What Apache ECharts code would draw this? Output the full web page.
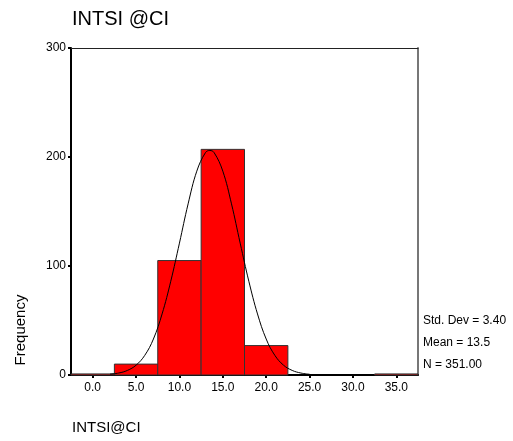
<!DOCTYPE html>
<html>
<head>
<meta charset="utf-8">
<script src="https://cdn.jsdelivr.net/npm/echarts@6/dist/echarts.min.js"></script>
<style>html,body{margin:0;padding:0;background:#fff;}#c{width:513px;height:441px;}</style>
</head>
<body>
<div id="c"></div>
<script>
// Histogram bins (midpoints) and frequencies
var binMids = [0, 5, 10, 15, 20, 25, 30, 35];
var binCounts = [1, 10, 105, 207, 27, 0, 0, 1];
var binWidth = 5;
// Fitted normal curve
var curveX = [2, 3, 4, 5, 6, 7, 8, 9, 10, 11, 12, 13, 13.5, 14, 15, 16, 17, 18, 19, 20, 21, 22, 23, 24, 25];
var curveY = [0.8, 1.8, 4.2, 9, 18, 33, 56, 86, 121, 157, 187, 204, 206, 204, 187, 157, 121, 86, 56, 33, 18, 9, 4.2, 1.8, 0.7];
// Tick labels
var xTickValues = [0, 5, 10, 15, 20, 25, 30, 35];
var yTicks = [0, 100, 200, 300];
var statsLines = ['Std. Dev = 3.40', 'Mean = 13.5', 'N = 351.00'];

var chart = echarts.init(document.getElementById('c'), null, {renderer: 'canvas'});
var FONT = 'Liberation Sans, Arial, sans-serif';

var barData = binMids.map(function (m, i) { return [m, binCounts[i]]; });
var curveData = curveX.map(function (x, i) { return [x, curveY[i]]; });

var graphics = [
  {type: 'text', left: 72, top: 9, style: {text: 'INTSI @CI', fontSize: 20, fontFamily: FONT, fill: '#000'}},
  {type: 'text', left: 72, top: 420, style: {text: 'INTSI@CI', fontSize: 15, fontFamily: FONT, fill: '#000'}},
  {type: 'text', x: 21, y: 330, rotation: Math.PI / 2, style: {text: 'Frequency', fontSize: 15, fontFamily: FONT, fill: '#000', align: 'center', verticalAlign: 'middle'}}
];
statsLines.forEach(function (t, i) {
  graphics.push({type: 'text', left: 423, top: 315 + i * 22, style: {text: t, fontSize: 12, fontFamily: FONT, fill: '#000'}});
});

chart.setOption({
  animation: false,
  backgroundColor: '#fff',
  grid: {left: 71, top: 48, right: 95, bottom: 66, containLabel: false},
  graphic: graphics,
  xAxis: [{
    type: 'value', min: -2.5, max: 37.5,
    axisLine: {show: true, onZero: false, lineStyle: {color: '#000', width: 2}},
    axisTick: {show: true, length: 3, customValues: xTickValues, lineStyle: {color: '#000', width: 2}},
    axisLabel: {show: true, customValues: xTickValues, fontSize: 12, fontFamily: FONT, color: '#000', margin: 7,
      formatter: function (v) { return v.toFixed(1); }},
    splitLine: {show: false}
  }, {
    type: 'value', min: -2.5, max: 37.5, position: 'top',
    axisLine: {show: true, onZero: false, lineStyle: {color: '#222', width: 1}},
    axisTick: {show: false}, axisLabel: {show: false}, splitLine: {show: false}
  }],
  yAxis: [{
    type: 'value', min: 0, max: 300, interval: 100,
    axisLine: {show: true, onZero: false, lineStyle: {color: '#000', width: 2}},
    axisTick: {show: true, length: 3, lineStyle: {color: '#000', width: 2}},
    axisLabel: {show: true, fontSize: 12, fontFamily: FONT, color: '#000', margin: 5},
    splitLine: {show: false}
  }, {
    type: 'value', min: 0, max: 300, position: 'right',
    axisLine: {show: true, onZero: false, lineStyle: {color: '#777', width: 2}},
    axisTick: {show: false}, axisLabel: {show: false}, splitLine: {show: false}
  }],
  series: [{
    type: 'custom',
    data: barData,
    z: 2,
    renderItem: function (params, api) {
      var m = api.value(0), c = api.value(1);
      if (c <= 0) return null;
      var p1 = api.coord([m - binWidth / 2, c]);
      var p2 = api.coord([m + binWidth / 2, 0]);
      return {
        type: 'rect',
        shape: {x: p1[0], y: p1[1], width: p2[0] - p1[0], height: p2[1] - p1[1]},
        style: {fill: '#ff0000', stroke: '#333', lineWidth: 1}
      };
    }
  }, {
    type: 'line',
    data: curveData,
    smooth: 0.4,
    showSymbol: false,
    symbol: 'none',
    z: 3,
    lineStyle: {color: '#000', width: 1}
  }]
});
</script>
</body>
</html>
